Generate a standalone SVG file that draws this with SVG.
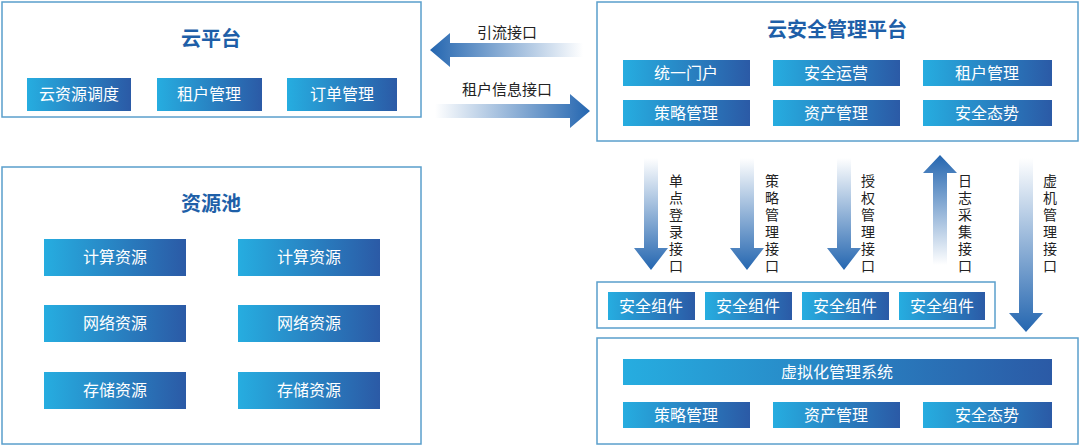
<svg xmlns="http://www.w3.org/2000/svg" width="1080" height="447" viewBox="0 0 1080 447">
<defs>
<linearGradient id="btn" x1="0" y1="0" x2="1" y2="0"><stop offset="0" stop-color="#26ADE0"/><stop offset="1" stop-color="#2B5AA6"/></linearGradient>
<linearGradient id="aL" x1="0" y1="0" x2="1" y2="0"><stop offset="0" stop-color="#2466B0"/><stop offset="1" stop-color="#2466B0" stop-opacity="0"/></linearGradient>
<linearGradient id="aR" x1="1" y1="0" x2="0" y2="0"><stop offset="0" stop-color="#2466B0"/><stop offset="1" stop-color="#2466B0" stop-opacity="0"/></linearGradient>
<linearGradient id="aD" x1="0" y1="1" x2="0" y2="0"><stop offset="0" stop-color="#2466B0"/><stop offset="1" stop-color="#2466B0" stop-opacity="0"/></linearGradient>
<linearGradient id="aU" x1="0" y1="0" x2="0" y2="1"><stop offset="0" stop-color="#2466B0"/><stop offset="1" stop-color="#2466B0" stop-opacity="0"/></linearGradient>
<style>
.panel{fill:#fff;stroke:#5A9FCC;stroke-width:1.5}
.btn{fill:url(#btn)}
.bt{font-family:"Noto Sans CJK SC",sans-serif;font-size:16px;fill:#fff;text-anchor:middle}
.ttl{font-family:"Noto Sans CJK SC",sans-serif;font-size:20px;font-weight:bold;fill:#1E5FA8;text-anchor:middle}
.lbl{font-family:"Noto Sans CJK SC",sans-serif;font-size:15px;fill:#222;text-anchor:middle}
.vl{font-family:"Noto Sans CJK SC",sans-serif;font-size:14px;fill:#222;writing-mode:vertical-rl;text-orientation:upright;letter-spacing:3px}
</style>
</defs>
<rect width="1080" height="447" fill="#fff"/>
<g id="cloud">
<rect class="panel" x="2" y="2" width="419" height="115"/>
<text class="ttl" x="211" y="46">云平台</text>
<rect class="btn" x="27" y="78" width="104" height="33"/><text class="bt" x="79" y="100">云资源调度</text>
<rect class="btn" x="157" y="78" width="105" height="33"/><text class="bt" x="209" y="100">租户管理</text>
<rect class="btn" x="287" y="78" width="110" height="33"/><text class="bt" x="342" y="100">订单管理</text>
</g>
<g id="pool">
<rect class="panel" x="2" y="167" width="419" height="277"/>
<text class="ttl" x="211" y="211">资源池</text>
<rect class="btn" x="44" y="239" width="142" height="37"/><text class="bt" x="115" y="263">计算资源</text>
<rect class="btn" x="238" y="239" width="142" height="37"/><text class="bt" x="309" y="263">计算资源</text>
<rect class="btn" x="44" y="305" width="142" height="37"/><text class="bt" x="115" y="329">网络资源</text>
<rect class="btn" x="238" y="305" width="142" height="37"/><text class="bt" x="309" y="329">网络资源</text>
<rect class="btn" x="44" y="372" width="142" height="37"/><text class="bt" x="115" y="396">存储资源</text>
<rect class="btn" x="238" y="372" width="142" height="37"/><text class="bt" x="309" y="396">存储资源</text>
</g>
<g id="secplat">
<rect class="panel" x="597" y="2" width="481" height="139"/>
<text class="ttl" x="837" y="37">云安全管理平台</text>
<rect class="btn" x="623" y="60" width="127" height="26"/><text class="bt" x="686" y="79">统一门户</text>
<rect class="btn" x="773" y="60" width="127" height="26"/><text class="bt" x="836" y="79">安全运营</text>
<rect class="btn" x="923" y="60" width="129" height="26"/><text class="bt" x="987" y="79">租户管理</text>
<rect class="btn" x="623" y="100" width="127" height="26"/><text class="bt" x="686" y="119">策略管理</text>
<rect class="btn" x="773" y="100" width="127" height="26"/><text class="bt" x="836" y="119">资产管理</text>
<rect class="btn" x="923" y="100" width="129" height="26"/><text class="bt" x="987" y="119">安全态势</text>
</g>
<g id="components">
<rect class="panel" x="597" y="282" width="398" height="46"/>
<rect class="btn" x="608" y="292" width="87" height="28"/><text class="bt" x="651" y="312">安全组件</text>
<rect class="btn" x="705" y="292" width="87" height="28"/><text class="bt" x="748" y="312">安全组件</text>
<rect class="btn" x="802" y="292" width="87" height="28"/><text class="bt" x="845" y="312">安全组件</text>
<rect class="btn" x="899" y="292" width="86" height="28"/><text class="bt" x="942" y="312">安全组件</text>
</g>
<g id="virt">
<rect class="panel" x="597" y="338" width="481" height="106"/>
<rect class="btn" x="623" y="359" width="429" height="26"/><text class="bt" x="837" y="378">虚拟化管理系统</text>
<rect class="btn" x="623" y="402" width="127" height="26"/><text class="bt" x="686" y="421">策略管理</text>
<rect class="btn" x="773" y="402" width="127" height="26"/><text class="bt" x="836" y="421">资产管理</text>
<rect class="btn" x="923" y="402" width="129" height="26"/><text class="bt" x="987" y="421">安全态势</text>
</g>
<g id="connectors">
<polygon fill="url(#aL)" points="430,50 450,33 450,43 583,43 583,57 450,57 450,67"/>
<polygon fill="url(#aR)" points="590,111 570,94 570,104 435,104 435,118 570,118 570,128"/>
<polygon fill="url(#aD)" points="644,158 658,158 658,248 668,248 651,270 634,248 644,248"/>
<polygon fill="url(#aD)" points="740,158 754,158 754,248 764,248 747,270 730,248 740,248"/>
<polygon fill="url(#aD)" points="837,158 851,158 851,248 861,248 844,270 827,248 837,248"/>
<polygon fill="url(#aU)" points="933,265 947,265 947,173 957,173 940,155 923,173 933,173"/>
<polygon fill="url(#aD)" points="1019,158 1033,158 1033,313 1043,313 1026,332 1009,313 1019,313"/>
<text class="lbl" x="507" y="38">引流接口</text>
<text class="lbl" x="507" y="95">租户信息接口</text>
<text class="vl" x="676" y="174">单点登录接口</text>
<text class="vl" x="772" y="174">策略管理接口</text>
<text class="vl" x="868" y="174">授权管理接口</text>
<text class="vl" x="965" y="174">日志采集接口</text>
<text class="vl" x="1050" y="174">虚机管理接口</text>
</g>
</svg>
